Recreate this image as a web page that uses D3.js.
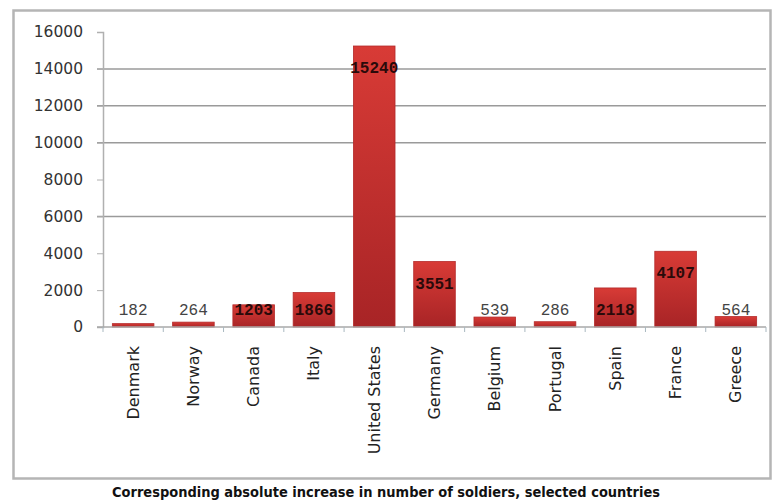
<!DOCTYPE html>
<html>
<head>
<meta charset="utf-8">
<script src="https://cdn.jsdelivr.net/npm/d3@7"></script>
<style>
  html, body { margin: 0; padding: 0; background: #fff; }
</style>
</head>
<body>
<svg id="chart" width="772" height="502"></svg>
<script>
// data
const countries = ['Denmark', 'Norway', 'Canada', 'Italy', 'United States', 'Germany',
  'Belgium', 'Portugal', 'Spain', 'France', 'Greece'];
const increase = [182, 264, 1203, 1866, 15240, 3551, 539, 286, 2118, 4107, 564];
const yTicks = [0, 2000, 4000, 6000, 8000, 10000, 12000, 14000, 16000];
const gridValues = [6000, 10000, 12000, 14000];
const title = 'Corresponding absolute increase in number of soldiers, selected countries';

const svg = d3.select('#chart');

const plot = {left: 103, right: 766, top: 32, bottom: 327};

// outer frame
svg.append('rect')
  .attr('x', 13.5).attr('y', 10.5)
  .attr('width', 757).attr('height', 468)
  .attr('fill', '#fff')
  .attr('stroke', '#b5b5b5')
  .attr('stroke-width', 2.5);

const defs = svg.append('defs');
const grad = defs.append('linearGradient')
  .attr('id', 'barGrad')
  .attr('x1', 0).attr('y1', 0).attr('x2', 0).attr('y2', 1);
grad.append('stop').attr('offset', '0%').attr('stop-color', '#d83b36');
grad.append('stop').attr('offset', '100%').attr('stop-color', '#a82426');

const x = d3.scaleBand()
  .domain(countries)
  .range([plot.left, plot.right])
  .paddingInner(0.31)
  .paddingOuter(0.155);

const y = d3.scaleLinear()
  .domain([0, 16000])
  .range([plot.bottom, plot.top]);

// gridlines (only some are drawn in the original)
svg.append('g')
  .selectAll('line')
  .data(gridValues)
  .enter().append('line')
  .attr('x1', plot.left - 6).attr('x2', plot.right)
  .attr('y1', d => y(d)).attr('y2', d => y(d))
  .attr('stroke', '#9a9a9a')
  .attr('stroke-width', 1.5);

// y axis
const yAxis = d3.axisLeft(y)
  .tickValues(yTicks)
  .tickSize(6)
  .tickPadding(14)
  .tickFormat(d3.format('d'));

const yg = svg.append('g')
  .attr('transform', 'translate(' + plot.left + ',0)')
  .call(yAxis);
yg.select('.domain').attr('stroke', '#b0b0b0').attr('stroke-width', 1.5);
yg.selectAll('.tick line').attr('stroke', '#b0b0b0');
yg.selectAll('.tick text')
  .attr('fill', '#333')
  .style('font-family', "'DejaVu Sans', sans-serif")
  .style('font-size', '15.5px');

// bars
svg.append('g')
  .selectAll('rect')
  .data(increase)
  .enter().append('rect')
  .attr('x', (d, i) => x(countries[i]))
  .attr('y', d => y(d))
  .attr('width', x.bandwidth())
  .attr('height', d => y(0) - y(d))
  .attr('fill', 'url(#barGrad)')
  .attr('stroke', '#b32a2a')
  .attr('stroke-width', 0.8);

// x axis
const boundaries = d3.range(countries.length + 1).map(i => plot.left + i * x.step());
const xg = svg.append('g');
xg.append('line')
  .attr('x1', plot.left - 6).attr('x2', plot.right)
  .attr('y1', y(0)).attr('y2', y(0))
  .attr('stroke', '#a8a8a8')
  .attr('stroke-width', 1.5);
xg.selectAll('.xtick')
  .data(boundaries)
  .enter().append('line')
  .attr('class', 'xtick')
  .attr('x1', d => d).attr('x2', d => d)
  .attr('y1', y(0)).attr('y2', y(0) + 5)
  .attr('stroke', '#a9b8c0');

xg.selectAll('.xlabel')
  .data(countries)
  .enter().append('text')
  .attr('class', 'xlabel')
  .attr('transform', d => 'translate(' + (x(d) + x.bandwidth() / 2 + 5.5) + ',' + 346 + ') rotate(-90)')
  .attr('text-anchor', 'end')
  .attr('fill', '#222')
  .style('font-family', "'DejaVu Sans', sans-serif")
  .style('font-size', '16px')
  .text(d => d);

// value labels
svg.append('g')
  .selectAll('text')
  .data(increase)
  .enter().append('text')
  .attr('x', (d, i) => x(countries[i]) + x.bandwidth() / 2)
  .attr('y', d => Math.min(y(d) + 22, y(0) - 17) + 5)
  .attr('text-anchor', 'middle')
  .attr('fill', d => (y(0) - y(d) > 20 ? '#2a0a0a' : '#444'))
  .style('font-family', "'Liberation Mono', monospace")
  .style('font-size', '16px')
  .style('font-weight', d => (y(0) - y(d) > 20 ? 'bold' : 'normal'))
  .text(d => d);

// caption
svg.append('text')
  .attr('x', 386)
  .attr('y', 497)
  .attr('text-anchor', 'middle')
  .attr('textLength', 548)
  .attr('lengthAdjust', 'spacingAndGlyphs')
  .attr('fill', '#111')
  .style('font-family', "'DejaVu Sans', sans-serif")
  .style('font-weight', 'bold')
  .style('font-size', '13.5px')
  .text(title);
</script>
</body>
</html>
